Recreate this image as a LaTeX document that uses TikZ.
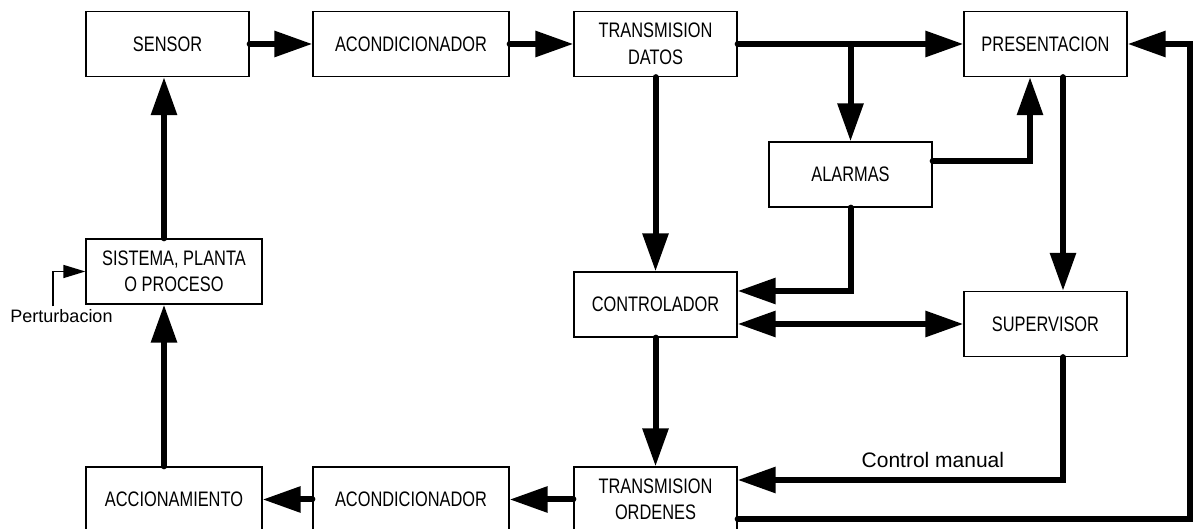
\documentclass[tikz,border=0pt]{standalone}
\usepackage{fontspec}
\setmainfont{Liberation Sans}
\newfontfamily\cajafont{Liberation Sans}[FakeStretch=0.78]
\usetikzlibrary{arrows.meta}
\tikzstyle{bloque} = [rectangle, draw=black, line width=1.3pt, fill=white, inner sep=0pt, minimum height=65pt, align=center, font=\cajafont\fontsize{21}{26.5}\selectfont]
\tikzstyle{flecha} = [line width=6pt, line cap=round, -{Triangle[length=38pt, width=25pt]}]
\tikzstyle{flechados} = [line width=6pt, {Triangle[length=38pt, width=25pt]}-{Triangle[length=38pt, width=25pt]}]
\tikzstyle{flechafina} = [line width=1.5pt, -{Triangle[length=22pt, width=13pt]}]
\tikzstyle{etiqueta} = [font=\fontsize{18}{22}\selectfont]

\begin{document}
\begin{tikzpicture}[x=1pt, y=1pt]
    \fill[white] (0,0) rectangle (1194,529);
    \useasboundingbox (0,0) rectangle (1194,529);

        % Nodes
        \node (sensor) [bloque, minimum width=163pt] at (167.5,485) {SENSOR};
        \node (acond1) [bloque, minimum width=196pt] at (411,485) {ACONDICIONADOR};
        \node (tdatos) [bloque, minimum width=163pt] at (655.5,485) {TRANSMISION\\DATOS};
        \node (present) [bloque, minimum width=163pt] at (1045.5,485) {PRESENTACION};
        \node (alarmas) [bloque, minimum width=163pt] at (850.5,354.5) {ALARMAS};
        \node (sistema) [bloque, minimum width=176pt] at (174,257.5) {SISTEMA, PLANTA\\O PROCESO};
        \node (control) [bloque, minimum width=163pt] at (655.5,224.5) {CONTROLADOR};
        \node (superv) [bloque, minimum width=163pt] at (1045.5,205) {SUPERVISOR};
        \node (accion) [bloque, minimum width=176pt] at (174,29.5) {ACCIONAMIENTO};
        \node (acond2) [bloque, minimum width=196pt] at (411,29.5) {ACONDICIONADOR};
        \node (tordenes) [bloque, minimum width=163pt] at (655.5,29.5) {TRANSMISION\\ORDENES};
        \node (pert) [etiqueta, anchor=base] at (61.5,206) {Perturbacion};
        \coordinate (retorno) at (1190,485);

        % Arrows
        \draw [flecha] (sensor) -- (acond1);
        \draw [flecha] (acond1) -- (tdatos);
        \draw [flecha] (tdatos) -- (present);
        \draw [flecha] (tdatos -| alarmas) -- (alarmas);
        \draw [flecha] (tdatos) -- (control);
        \draw [flecha] ([yshift=13.5pt]alarmas.east) -| ([xshift=-15.5pt]present.south);
        \draw [flecha] (alarmas.south) |- ([yshift=13.5pt]control.east);
        \draw [flechados] (control.east |- superv.west) -- (superv.west);
        \draw [flecha] ([xshift=17.5pt]present.south) -- ([xshift=17.5pt]superv.north);
        \draw [flecha] (control) -- (tordenes);
        \draw [flecha] ([xshift=17.5pt]superv.south) |- ([yshift=19.5pt]tordenes.east) node [pos=0.7, above=6pt, font=\fontsize{21}{24}\selectfont] {Control manual};
        \draw [flecha] (tordenes) -- (acond2);
        \draw [flecha] (acond2) -- (accion);
        \draw [flecha] ([xshift=-10pt]accion.north) -- ([xshift=-10pt]sistema.south);
        \draw [flecha] ([xshift=-10pt]sistema.north) -- ([xshift=-10pt]sistema.north |- sensor.south);
        \draw [flecha] ([yshift=-19.5pt]tordenes.east) -| (retorno) -- (present);
        \draw [flechafina] ([xshift=-8.5pt]pert.north) |- (sistema.west);

\end{tikzpicture}
\end{document}
